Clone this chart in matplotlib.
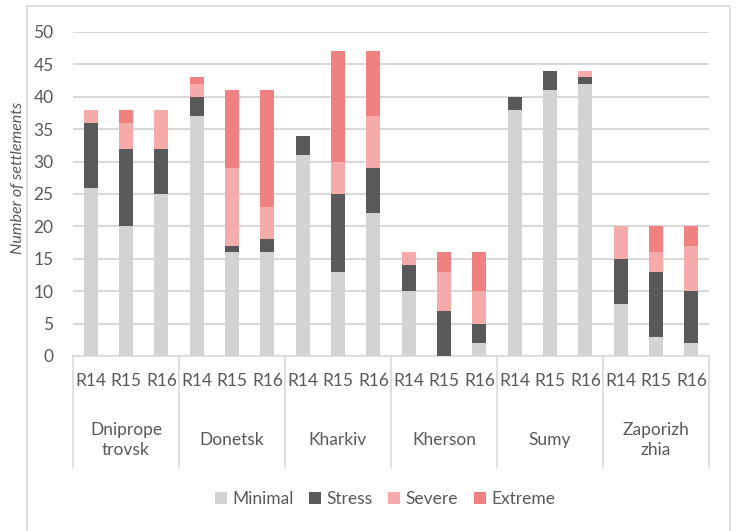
import matplotlib
matplotlib.use("Agg")
from matplotlib import pyplot as plt
from matplotlib.patches import Rectangle
import numpy as np

plt.rcParams['font.family'] = ['Lato', 'DejaVu Sans']

regions = ['Dniprope\ntrovsk', 'Donetsk', 'Kharkiv', 'Kherson', 'Sumy', 'Zaporizh\nzhia']
rounds = ['R14', 'R15', 'R16']

# values per bar, region by region, R14/R15/R16
minimal = [26, 20, 25, 37, 16, 16, 31, 13, 22, 10, 0, 2, 38, 41, 42, 8, 3, 2]
stress = [10, 12, 7, 3, 1, 2, 3, 12, 7, 4, 7, 3, 2, 3, 1, 7, 10, 8]
severe = [2, 4, 6, 2, 12, 5, 0, 5, 8, 2, 6, 5, 0, 0, 1, 5, 3, 7]
extreme = [0, 2, 0, 1, 12, 18, 0, 17, 10, 0, 3, 6, 0, 0, 0, 0, 4, 3]

series = [('Minimal', minimal, '#d3d3d5'),
          ('Stress', stress, '#595959'),
          ('Severe', severe, '#f6abab'),
          ('Extreme', extreme, '#f08181')]

txt = '#595959'
fs = 12.5
fig = plt.figure(figsize=(7.36, 5.31), dpi=100)
ax = fig.add_axes([73/736, 1-356/531, (709-73)/736, (356-32)/531])

# outer chart border
fig.patches.append(Rectangle((27/736, -0.05), (730-27)/736, 1.05-6/531,
                             transform=fig.transFigure, fill=False,
                             edgecolor='#d9d9d9', linewidth=1.2))

x = np.arange(len(minimal))
bottom = np.zeros(len(minimal))
handles = []
for name, vals, col in series:
    b = ax.bar(x, vals, width=0.4, bottom=bottom, color=col, label=name, zorder=3)
    handles.append(b)
    bottom += np.array(vals)

ax.set_xlim(-0.5, len(minimal) - 0.5)
ax.set_ylim(0, 50)
ax.set_yticks(range(0, 51, 5))
ax.yaxis.grid(True, color='#d9d9d9', linewidth=1.5, zorder=0)
ax.tick_params(axis='y', length=0, pad=14, labelsize=fs, labelcolor=txt)
ax.set_xticks([])
for s in ['top', 'right', 'left']:
    ax.spines[s].set_visible(False)
ax.spines['bottom'].set_color('#d9d9d9')
ax.spines['bottom'].set_linewidth(1.2)
ax.set_ylabel('Number of settlements', style='italic', fontsize=11.5, color=txt)
ax.yaxis.set_label_coords(-48/636, (356-178)/324)

tr = ax.get_xaxis_transform()
for i in range(len(minimal)):
    ax.text(x[i], -25/324, rounds[i % 3], transform=tr, ha='center', va='center',
            fontsize=fs, color=txt)
for g, name in enumerate(regions):
    ax.text(g*3 + 1, -84/324, name, transform=tr, ha='center', va='center',
            fontsize=fs, color=txt, linespacing=1.35)
for g in range(len(regions) + 1):
    ax.plot([g*3 - 0.5]*2, [0, -111/324], transform=tr, color='#d9d9d9',
            linewidth=1.2, clip_on=False)

fig.legend(handles=handles, loc='center', bbox_to_anchor=(385/736, 1-499/531),
           ncol=4, frameon=False, fontsize=fs, labelcolor=txt,
           handlelength=0.7, handleheight=0.7, handletextpad=0.3, columnspacing=0.9)

plt.savefig('out.png', dpi=100)
